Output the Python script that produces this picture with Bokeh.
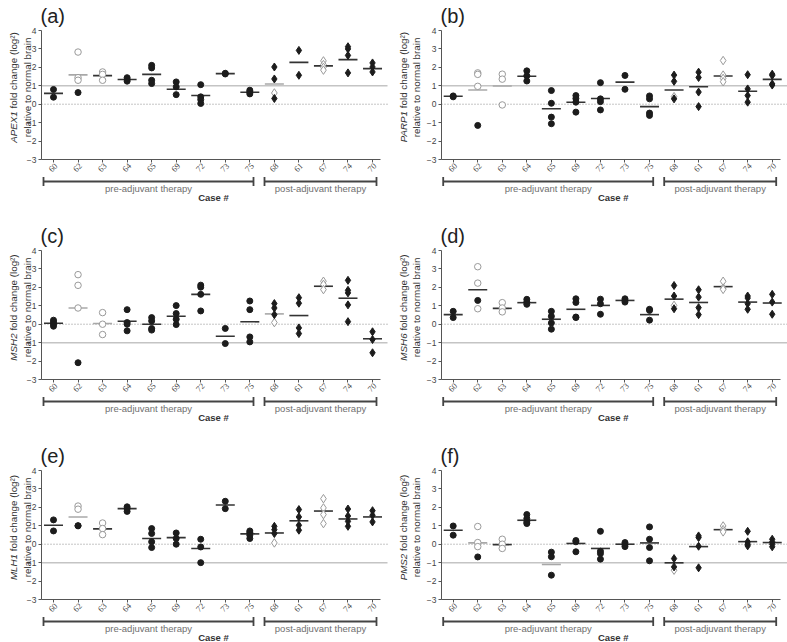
import math
from bokeh.plotting import figure
from bokeh.models import Range1d, FixedTicker, Label, LabelSet, Whisker, TeeHead, ColumnDataSource
from bokeh.layouts import column, row
from bokeh.embed import file_html
from bokeh.resources import INLINE

# ---------------- data ----------------
cases = ["60", "62", "63", "64", "65", "69", "72", "73", "75", "68", "61", "67", "74", "70"]
n_pre = 9
group_names = ["pre-adjuvant therapy", "post-adjuvant therapy"]
x_title = "Case #"
y_ticks = [-3, -2, -1, 0, 1, 2, 3, 4]

# (a) APEX1
apex1_filled = [[0.80, 0.38], [0.63], [], [1.44, 1.34, 1.25], [2.11, 1.97, 1.30, 1.12],
                [1.21, 0.94, 0.52], [1.06, 0.40, 0.25, 0.04], [1.68, 1.64], [0.76, 0.67, 0.56],
                [2.02, 1.37, 0.31], [2.92, 1.57], [], [3.12, 3.00, 2.65, 1.70], [2.24, 2.02, 1.75]]
apex1_open = [[], [2.83, 1.44, 1.30], [1.75, 1.62, 1.30], [], [], [], [], [], [],
              [0.61], [], [2.35, 2.15, 2.00, 1.85], [], []]
apex1_mean = [0.59, 1.59, 1.55, 1.34, 1.62, 0.81, 0.47, 1.66, 0.65, 1.10, 2.27, 2.08, 2.42, 1.93]

# (b) PARP1
parp1_filled = [[0.45, 0.40], [-1.15], [], [1.81, 1.54, 1.26], [0.74, 0.05, -0.70, -1.06],
                [0.47, 0.31, 0.11, -0.43], [1.17, 0.29, 0.14, -0.31], [1.56, 0.81], [0.45, 0.29, -0.48, -0.61],
                [1.58, 1.24, 0.29], [1.74, 1.45, 0.66, -0.13], [], [1.60, 0.83, 0.47, 0.11], [1.63, 1.56, 1.10, 1.04]]
parp1_open = [[], [1.70, 1.62, 0.97], [1.63, 1.36, -0.04], [], [], [], [], [], [],
              [0.41], [], [2.37, 1.58, 1.40, 1.22], [], []]
parp1_mean = [0.43, 0.77, 0.99, 1.52, -0.25, 0.11, 0.31, 1.20, -0.13, 0.77, 0.95, 1.53, 0.70, 1.35]

# (c) MSH2
msh2_filled = [[0.22, 0.11, 0.00, -0.11], [-2.09], [], [0.79, 0.09, 0.00, -0.36], [0.36, 0.18, -0.23, -0.32],
               [1.01, 0.58, 0.27, -0.02], [2.12, 2.01, 1.62, 0.72], [-0.23, -1.05], [1.26, 0.79, -0.69, -0.96],
               [1.12, 0.88, 0.52], [1.44, 1.14, -0.20, -0.51], [], [2.38, 1.84, 1.70, 1.05, 0.14], [-0.41, -0.83, -1.55]]
msh2_open = [[], [2.69, 2.11, 0.88], [0.63, 0.00, -0.56], [], [], [], [], [], [],
             [0.09], [], [2.33, 2.16, 1.88], [], []]
msh2_mean = [0.05, 0.88, 0.04, 0.16, 0.00, 0.43, 1.62, -0.65, 0.13, 0.56, 0.47, 2.06, 1.41, -0.79]

# (d) MSH6
msh6_filled = [[0.70, 0.36], [1.29], [], [1.35, 1.20, 1.08], [0.70, 0.43, 0.07, -0.27],
               [1.38, 1.18, 0.39, 0.36], [1.36, 1.11, 0.54], [1.38, 1.29, 1.20], [0.81, 0.75, 0.22],
               [2.10, 1.53, 0.84], [1.87, 1.47, 0.90, 0.52], [], [1.53, 1.42, 1.11, 0.81], [1.62, 1.20, 0.54]]
msh6_open = [[], [3.12, 2.23, 0.84], [1.17, 0.88, 0.67], [], [], [], [], [], [],
             [1.02], [], [2.33, 1.96, 1.89], [], []]
msh6_mean = [0.52, 1.87, 0.86, 1.17, 0.27, 0.81, 1.02, 1.29, 0.52, 1.36, 1.18, 2.04, 1.20, 1.15]

# (e) MLH1
mlh1_filled = [[1.32, 0.72], [1.00, 1.00], [], [2.03, 1.93, 1.78], [0.85, 0.58, 0.13, -0.18],
               [0.61, 0.31, 0.00], [0.27, -0.15, -1.00], [2.33, 1.93], [0.72, 0.63, 0.49, 0.31],
               [0.97, 0.79, 0.58], [1.88, 1.48, 1.03, 0.76], [], [1.91, 1.53, 1.24, 0.97], [1.82, 1.57, 1.21]]
mlh1_open = [[], [2.07, 1.90], [1.15, 0.85, 0.52], [], [], [], [], [], [],
             [0.07], [], [2.47, 1.97, 1.61, 1.12], [], []]
mlh1_mean = [1.03, 1.48, 0.83, 1.93, 0.31, 0.36, -0.23, 2.13, 0.56, 0.61, 1.27, 1.80, 1.37, 1.48]

# (f) PMS2
pms2_filled = [[0.99, 0.49], [-0.69], [], [1.61, 1.39, 1.21, 1.12], [-0.43, -0.68, -1.68],
               [0.20, 0.13, -0.41], [0.70, -0.38, -0.51, -0.81], [0.09, -0.02, -0.13], [0.94, 0.27, -0.18, -0.90],
               [-0.78, -1.23], [0.45, 0.36, -0.11, -1.28], [], [0.70, 0.13, 0.00, -0.09], [0.27, 0.13, 0.00, -0.14]]
pms2_open = [[], [0.96, 0.09, -0.13], [0.27, 0.00, -0.23], [], [], [], [], [], [],
             [-1.41], [], [0.99, 0.79, 0.67], [], []]
pms2_mean = [0.76, 0.07, -0.02, 1.30, -1.10, 0.04, -0.23, 0.00, 0.07, -1.01, -0.13, 0.79, 0.14, 0.09]

panels = [
    dict(tag="(a)", gene="APEX1", filled=apex1_filled, open=apex1_open, mean=apex1_mean, ref=1, light=["62", "68"]),
    dict(tag="(b)", gene="PARP1", filled=parp1_filled, open=parp1_open, mean=parp1_mean, ref=1, light=["62", "63"]),
    dict(tag="(c)", gene="MSH2", filled=msh2_filled, open=msh2_open, mean=msh2_mean, ref=-1, light=["62", "63", "68"]),
    dict(tag="(d)", gene="MSH6", filled=msh6_filled, open=msh6_open, mean=msh6_mean, ref=-1, light=[]),
    dict(tag="(e)", gene="MLH1", filled=mlh1_filled, open=mlh1_open, mean=mlh1_mean, ref=-1, light=["62"]),
    dict(tag="(f)", gene="PMS2", filled=pms2_filled, open=pms2_open, mean=pms2_mean, ref=-1, light=["62", "65"]),
]

# ---------------- layout / style ----------------
FONT = "Liberation Sans"
FRAME_H = 129.0
PPY = FRAME_H / 7.0           # px per y unit
PPX = 24.54                   # px per category
COLS = [dict(width=394, c0=53.0, axis=41.0, right=387.0, yt=(13.0, 27.0)),
        dict(width=393, c0=58.7, axis=47.0, right=393.0, yt=(8.5, 22.0))]
ROWS = [dict(height=210, top=30.0), dict(height=220, top=40.0), dict(height=212, top=40.0)]
YT_CENTER = 57.0
YT_FS = 9.8
GENE_EM = {"APEX1": 3.224, "PARP1": 3.279, "MSH2": 2.778, "MSH6": 2.778, "MLH1": 2.667, "PMS2": 2.723}
REST_EM = 7.78
GAP_PX = 2.8
PRE_BR_PX = (43.0, 253.0)
POST_BR_PX = (264.0, 376.0)

DARK = "#1c1c1c"
OPEN = "#9a9a9a"
AXC = "#555555"


def make_panel(pan, ci, ri):
    c = COLS[ci]
    r = ROWS[ri]
    W, H, top = c["width"], r["height"], r["top"]

    def X(px):
        return (px - c["c0"]) / PPX

    def Y(px):
        return 4.0 - (px - top) / PPY

    p = figure(width=W, height=H, x_range=Range1d(X(0), X(W)), y_range=Range1d(Y(H), Y(0)),
               output_backend="svg", toolbar_location=None, title=None,
               min_border=0, min_border_left=0, min_border_right=0, min_border_top=0, min_border_bottom=0)
    p.outline_line_color = None
    p.xgrid.visible = False
    p.ygrid.visible = False
    p.background_fill_color = "white"
    p.border_fill_color = "white"

    x_axis_loc = X(c["axis"])
    x_end = X(c["right"])
    for ax in (p.xaxis[0], p.yaxis[0]):
        ax.axis_line_color = AXC
        ax.axis_line_width = 1
        ax.major_tick_line_color = AXC
        ax.major_tick_out = 3
        ax.major_tick_in = 0
        ax.minor_tick_line_color = None
        ax.major_label_text_font = FONT
        ax.major_label_text_font_size = "8.5px"
        ax.major_label_text_color = "#444444"
        ax.major_label_standoff = 2
    p.yaxis[0].ticker = FixedTicker(ticks=y_ticks)
    p.yaxis[0].fixed_location = x_axis_loc
    p.yaxis[0].bounds = (-3, 4)
    p.xaxis[0].ticker = FixedTicker(ticks=list(range(len(cases))))
    p.xaxis[0].major_label_overrides = {i: "" for i in range(len(cases))}
    p.xaxis[0].fixed_location = -3
    p.xaxis[0].bounds = (x_axis_loc, X(c["right"] - 7))

    bottom = top + FRAME_H
    # rotated case labels under the ticks
    lsrc = ColumnDataSource(dict(x=[i + 2.5 / PPX for i in range(len(cases))],
                                 y=[Y(bottom + 5)] * len(cases), t=cases))
    p.add_layout(LabelSet(x="x", y="y", text="t", source=lsrc, angle=0.78,
                          text_align="right", text_baseline="middle", text_font=FONT,
                          text_font_size="8.5px", text_color="#444444"))

    # reference lines
    p.line([x_axis_loc, x_end], [pan["ref"], pan["ref"]], line_color="#c4c4c4", line_width=1.5)
    p.line([x_axis_loc, x_end], [0, 0], line_color="#8a8a8a", line_width=1, line_dash="1 2")

    # points
    fx, fy, dx, dy, ox, oy, odx, ody = [], [], [], [], [], [], [], []
    for i in range(len(cases)):
        for v in pan["filled"][i]:
            if i < n_pre:
                fx.append(i); fy.append(v)
            else:
                dx.append(i); dy.append(v)
        for v in pan["open"][i]:
            if i < n_pre:
                ox.append(i); oy.append(v)
            else:
                odx.append(i); ody.append(v)

    mcol = ["#a8a8a8" if cases[i] in pan["light"] else "#333333" for i in range(len(cases))]
    msrc = ColumnDataSource(dict(x=list(range(len(cases))), y=pan["mean"], c=mcol))
    p.scatter(x="x", y="y", marker="dash", size=19, line_color="c", line_width=1.6, source=msrc)

    p.scatter(ox, oy, marker="circle", size=6.5, fill_color="white", line_color=OPEN, line_width=1)
    p.scatter(odx, ody, marker="diamond", size=8.5, fill_color="white", line_color=OPEN, line_width=1)
    p.scatter(fx, fy, marker="circle", size=6, fill_color=DARK, line_color=DARK)
    p.scatter(dx, dy, marker="diamond", size=8, fill_color=DARK, line_color=DARK)

    # panel tag
    p.add_layout(Label(x=X(c["axis"] - 1), y=Y(top - 15), text=pan["tag"], text_font=FONT,
                       text_font_size="20px", text_color="#222222", text_align="left",
                       text_baseline="alphabetic"))

    # y title (italic gene + rest), two lines, rotated
    gw = GENE_EM[pan["gene"]] * YT_FS
    Wt = gw + GAP_PX + REST_EM * YT_FS
    start_px = top + YT_CENTER + Wt / 2.0
    x1 = X(c["yt"][0])
    x2 = X(c["yt"][1])
    common = dict(text_font=FONT, text_font_size=f"{YT_FS}px", text_color="#333333",
                  angle=math.pi / 2, text_baseline="middle")
    p.add_layout(Label(x=x1, y=Y(start_px - gw), text=pan["gene"], text_font_style="italic",
                       text_align="right", **common))
    p.add_layout(Label(x=x1, y=Y(start_px - gw - GAP_PX), text="fold change (log\u00b2)", text_align="left", **common))
    p.add_layout(Label(x=x2, y=Y(top + YT_CENTER), text="relative to normal brain",
                       text_align="center", **common))

    # group brackets
    yb = Y(bottom + 22)
    off = c["c0"] - 53.0
    pre = (X(PRE_BR_PX[0] + off), X(PRE_BR_PX[1] + off))
    post = (X(POST_BR_PX[0] + off), X(POST_BR_PX[1] + off))
    bsrc = ColumnDataSource(dict(base=[yb, yb], lower=[pre[0], post[0]], upper=[pre[1], post[1]]))
    p.add_layout(Whisker(source=bsrc, base="base", lower="lower", upper="upper", dimension="width",
                         line_color="#444444", line_width=1.8,
                         lower_head=TeeHead(size=9, line_color="#444444", line_width=1.8),
                         upper_head=TeeHead(size=9, line_color="#444444", line_width=1.8)))
    for (a, b), name in zip([pre, post], group_names):
        p.add_layout(Label(x=(a + b) / 2.0, y=Y(bottom + 28.5), text=name, text_font=FONT,
                           text_font_size="9.5px", text_color="#707070", text_align="center",
                           text_baseline="middle"))
    p.add_layout(Label(x=X(213.0 + off), y=Y(bottom + 38), text=x_title, text_font=FONT, text_font_size="9.5px",
                       text_font_style="bold", text_color="#333333", text_align="center",
                       text_baseline="middle"))
    return p


figs = []
for k, pan in enumerate(panels):
    figs.append(make_panel(pan, k % 2, k // 2))

layout = column(row(figs[0], figs[1]), row(figs[2], figs[3]), row(figs[4], figs[5]))
open("out.html", "w").write(file_html(layout, INLINE))
